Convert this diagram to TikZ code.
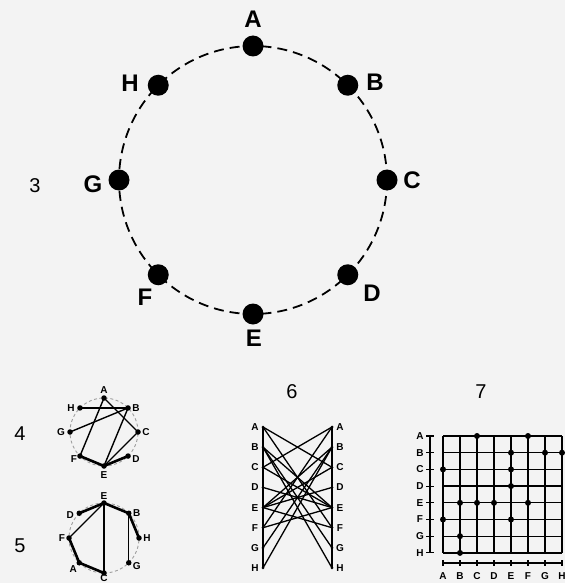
\documentclass[tikz,border=0pt]{standalone}
\usepackage{fontspec}
\setmainfont{Liberation Sans}
\usetikzlibrary{calc}
\definecolor{bgpaper}{RGB}{243,243,243}
\begin{document}
\begin{tikzpicture}[x=1pt,y=-1pt,
  bigdot/.style={circle,fill=black,inner sep=0pt,minimum size=21pt},
  biglab/.style={font=\fontsize{24}{24}\selectfont\bfseries,inner sep=0pt},
  numlab/.style={font=\fontsize{20}{20}\selectfont,inner sep=0pt},
  smalldot/.style={circle,fill=black,inner sep=0pt,minimum size=5.5pt},
  tinydot/.style={circle,fill=black,inner sep=0pt,minimum size=3pt},
  mdot/.style={circle,fill=black,inner sep=0pt,minimum size=6pt},
  smalllab/.style={font=\fontsize{10}{10}\selectfont\bfseries,inner sep=0pt},
  bigring/.style={line width=1.8pt,dash pattern=on 10pt off 6pt},
  smallring/.style={line width=0.9pt,gray!75,dash pattern=on 3pt off 2.5pt},
  chord/.style={line width=1.4pt},
  thickarc/.style={line width=2.6pt,line cap=round},
  biline/.style={line width=1.3pt},
  gridline/.style={line width=1.3pt},
  axisline/.style={line width=1.1pt}
]
\fill[bgpaper] (0,0) rectangle (565,583);
\useasboundingbox (0,0) rectangle (565,583);

% ---------------- diagram 3 ----------------
\coordinate (c3) at (253,180);
\draw[bigring] (c3) circle[radius=134pt];
\foreach \n/\a in {A/90,B/45,C/0,D/-45,E/-90,F/-135,G/180,H/135}
  \node[bigdot] (g3\n) at ($(c3)+({134*cos(\a)},{-134*sin(\a)})$) {};
\node[biglab] (l3A) at (253,19) {A};
\node[biglab] (l3B) at (375,82) {B};
\node[biglab] (l3C) at (412,180) {C};
\node[biglab] (l3D) at (372,293) {D};
\node[biglab] (l3E) at (254,338) {E};
\node[biglab] (l3F) at (145,297) {F};
\node[biglab] (l3G) at (93,184) {G};
\node[biglab] (l3H) at (130,83) {H};
\node[numlab] (n3) at (35,186) {3};

% ---------------- diagram 4 ----------------
\coordinate (c4) at (104,432);
\draw[smallring] (c4) circle[radius=34pt];
\foreach \n/\a in {A/90,B/45,C/0,D/-45,E/-90,F/-135,G/180,H/135}
  \node[smalldot] (d4\n) at ($(c4)+({34*cos(\a)},{-34*sin(\a)})$) {};
\node[smalllab] (l4A) at ($(d4A)+(0,-8)$) {A};
\node[smalllab] (l4B) at ($(d4B)+(8,0)$) {B};
\node[smalllab] (l4C) at ($(d4C)+(8,0)$) {C};
\node[smalllab] (l4D) at ($(d4D)+(8,3)$) {D};
\node[smalllab] (l4E) at ($(d4E)+(0,9)$) {E};
\node[smalllab] (l4F) at ($(d4F)+(-6,3)$) {F};
\node[smalllab] (l4G) at ($(d4G)+(-9,0)$) {G};
\node[smalllab] (l4H) at ($(d4H)+(-9,0)$) {H};
\foreach \u/\v in {A/C,A/F,B/E,B/G,B/H,C/E}
  \draw[chord] (d4\u.center) -- (d4\v.center);
\draw[thickarc] (d4D.center) -- (d4E.center) -- (d4F.center);
\node[numlab] (n4) at (20,434) {4};

% ---------------- diagram 5 ----------------
\coordinate (c5) at (104,538);
\draw[smallring] (c5) circle[radius=35pt];
\foreach \n/\a in {E/90,B/45,H/0,G/-45,C/-90,A/-135,F/180,D/135}
  \node[smalldot] (d5\n) at ($(c5)+({35*cos(\a)},{-35*sin(\a)})$) {};
\node[smalllab] (l5E) at ($(d5E)+(0,-7)$) {E};
\node[smalllab] (l5B) at ($(d5B)+(8,0)$) {B};
\node[smalllab] (l5H) at ($(d5H)+(8,0)$) {H};
\node[smalllab] (l5G) at ($(d5G)+(8,3)$) {G};
\node[smalllab,anchor=south] (l5C) at (104,582) {C};
\node[smalllab] (l5A) at ($(d5A)+(-6,6)$) {A};
\node[smalllab] (l5F) at ($(d5F)+(-7,0)$) {F};
\node[smalllab] (l5D) at ($(d5D)+(-9,2)$) {D};
\foreach \u/\v in {E/C,E/F,B/G}
  \draw[chord] (d5\u.center) -- (d5\v.center);
\draw[thickarc] (d5D.center) -- (d5E.center) -- (d5B.center) -- (d5H.center);
\draw[thickarc] (d5C.center) -- (d5A.center) -- (d5F.center);
\node[numlab] (n5) at (20,546) {5};

% ---------------- diagram 6 ----------------
\foreach \l [count=\i from 0] in {A,B,C,D,E,F,G,H} {
  \node[tinydot] (d6L\l) at (263,{427+20.14*\i}) {};
  \node[tinydot] (d6R\l) at (332,{427+20.14*\i}) {};
  \node[smalllab] (l6L\l) at (255,{427+20.14*\i}) {\l};
  \node[smalllab] (l6R\l) at (340,{427+20.14*\i}) {\l};
}
\draw[biline] (d6LA.center) -- (d6LH.center);
\draw[biline] (d6RA.center) -- (d6RH.center);
\foreach \u/\v in {A/C,A/F,B/E,B/G,B/H,C/E,D/E,E/F} {
  \draw[biline] (d6L\u.center) -- (d6R\v.center);
  \draw[biline] (d6L\v.center) -- (d6R\u.center);
}
\node[numlab] (n6) at (292,392) {6};

% ---------------- diagram 7 ----------------
\foreach \l [count=\i from 0] in {A,B,C,D,E,F,G,H} {
  \coordinate (m7r\l) at (443,{436+16.7*\i});
  \coordinate (m7e\l) at (562,{436+16.7*\i});
  \coordinate (m7t\l) at ({443+17*\i},436);
  \coordinate (m7b\l) at ({443+17*\i},552.9);
  \draw[gridline] (m7r\l) -- (m7e\l);
  \draw[gridline] (m7t\l) -- (m7b\l);
  % left axis ticks and labels
  \draw[axisline] (426,{436+16.7*\i}) -- (434,{436+16.7*\i});
  \node[smalllab] (l7r\l) at (420,{436+16.7*\i}) {\l};
  % bottom axis ticks and labels
  \draw[axisline] ({443+17*\i},560) -- ({443+17*\i},566);
  \node[smalllab] (l7c\l) at ({443+17*\i},576.5) {\l};
}
\draw[axisline] (430,436) -- (430,552.9);
\draw[axisline] (443,563) -- (562,563);
\foreach \u/\v in {A/C,A/F,B/E,B/G,B/H,C/E,D/E,E/F} {
  \node[mdot] (m7\u\v) at (m7t\v |- m7r\u) {};
  \node[mdot] (m7\v\u) at (m7t\u |- m7r\v) {};
}
\node[numlab] (n7) at (481,392) {7};
\end{tikzpicture}
\end{document}
